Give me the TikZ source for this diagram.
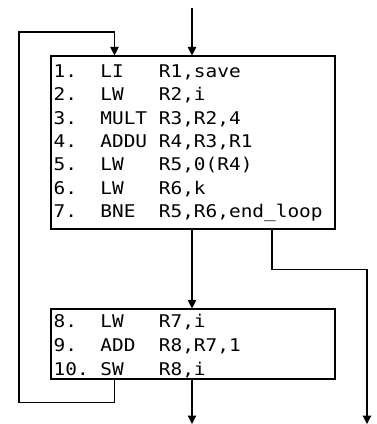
\documentclass[tikz,border=0pt]{standalone}
\usepackage{fontspec}
\newfontfamily\codefont[FakeStretch=1.11]{DejaVu Sans Mono}
\usetikzlibrary{arrows.meta}
\begin{document}
\begin{tikzpicture}[x=1pt,y=-1pt,
  arr/.style={line width=1.1pt,-{Triangle[length=8.5pt,width=8.5pt]}},
  blk/.style={draw,line width=1.1pt,rectangle,inner sep=0pt,minimum width=284pt},
  code/.style={anchor=base west,inner sep=0pt,font=\codefont\fontsize{17.5pt}{20pt}\selectfont}]
\useasboundingbox (0,0) rectangle (377,424);
\node[blk,minimum height=173pt] (b1) at (193,142.5) {};
\node[blk,minimum height=70pt] (b2) at (193,344) {};
% block 1 text
\foreach \i/\n/\m/\o [count=\k from 0] in {1/1./LI/{R1,save},2/2./LW/{R2,i},3/3./MULT/{R3,R2,4},4/4./ADDU/{R4,R3,R1},5/5./LW/{R5,0(R4)},6/6./LW/{R6,k},7/7./BNE/{R5,R6,end\_loop}}{
  \node[code] (n\i) at (53.5,77.3+23.4*\k) {\n};
  \node[code] (m\i) at (100.2,77.3+23.4*\k) {\m};
  \node[code] (o\i) at (158.7,77.3+23.4*\k) {\o};
}
\foreach \i/\n/\m/\o [count=\k from 0] in {8/8./LW/{R7,i},9/9./ADD/{R8,R7,1},10/10./SW/{R8,i}}{
  \node[code] (n\i) at (53.5,327+24*\k) {\n};
  \node[code] (m\i) at (100.2,327+24*\k) {\m};
  \node[code] (o\i) at (158.7,327+24*\k) {\o};
}
\coordinate (in) at (192,8);
\coordinate (cx) at (192,0);
\coordinate (lx) at (114.5,0);
\coordinate (lb) at (19,402.7);
\coordinate (lt) at (19,32);
\coordinate (bx) at (272,0);
\coordinate (br) at (367,269.3);
\coordinate (out1) at (192,424);
\coordinate (out2) at (367,424);
\draw[arr] (in) -- (in |- b1.north);
\draw[arr] (cx |- b1.south) -- (cx |- b2.north);
\draw[arr] (lx |- b2.south) |- (lb) -- (lt) -| (lx |- b1.north);
\draw[arr] (bx |- b1.south) |- (br) -- (out2);
\draw[arr] (cx |- b2.south) -- (out1);
\end{tikzpicture}
\end{document}
